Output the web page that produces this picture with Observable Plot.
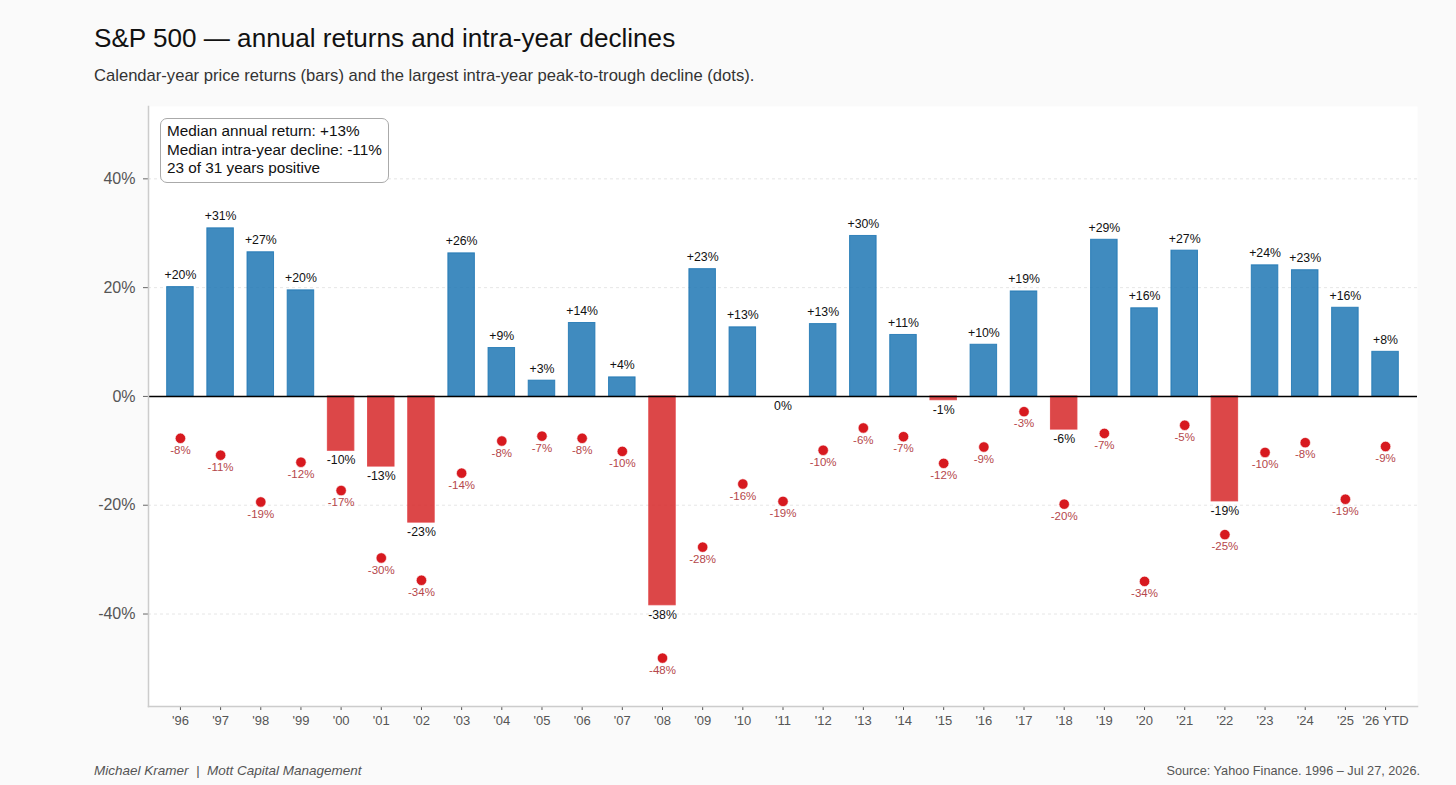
<!DOCTYPE html>
<html>
<head>
<meta charset="utf-8">
<script src="https://cdn.jsdelivr.net/npm/d3@7"></script>
<script src="https://cdn.jsdelivr.net/npm/@observablehq/plot@0.6"></script>
<style>
html,body{margin:0;padding:0;background:#fafafa;font-family:"Liberation Sans",Arial,sans-serif;}
#page{position:relative;width:1456px;height:785px;overflow:hidden;}
#title{position:absolute;left:94px;top:23px;font-size:26.1px;line-height:30px;color:#111;white-space:nowrap;}
#subtitle{position:absolute;left:94px;top:66px;font-size:16.6px;line-height:20px;color:#333;white-space:nowrap;}
#chart{position:absolute;left:0;top:90px;}
#note{position:absolute;left:160px;top:118px;width:229px;height:65px;border:1px solid #aaa;border-radius:7px;background:#fff;padding:3px 0 0 6px;font-size:15.3px;line-height:18.7px;color:#111;box-sizing:border-box;white-space:nowrap;}
#by{position:absolute;left:94px;top:763px;font-size:13.5px;line-height:16px;font-style:italic;color:#555;white-space:nowrap;}
#source{position:absolute;right:36px;top:763px;font-size:12.7px;line-height:16px;color:#555;white-space:nowrap;}
</style>
</head>
<body>
<div id="page">
<div id="title">S&amp;P 500 — annual returns and intra-year declines</div>
<div id="subtitle">Calendar-year price returns (bars) and the largest intra-year peak-to-trough decline (dots).</div>
<div id="chart"></div>
<div id="note">Median annual return: +13%<br>Median intra-year decline: -11%<br>23 of 31 years positive</div>
<div id="by">Michael Kramer&nbsp; |&nbsp; Mott Capital Management</div>
<div id="source">Source: Yahoo Finance. 1996 – Jul 27, 2026.</div>
</div>
<script>
const years = ["'96","'97","'98","'99","'00","'01","'02","'03","'04","'05","'06","'07","'08","'09","'10","'11","'12","'13","'14","'15","'16","'17","'18","'19","'20","'21","'22","'23","'24","'25","'26 YTD"];
const returns = [20.1,30.9,26.5,19.5,-10.0,-12.9,-23.2,26.3,8.9,2.9,13.5,3.5,-38.4,23.4,12.7,0.0,13.3,29.5,11.3,-0.7,9.5,19.3,-6.1,28.8,16.2,26.8,-19.3,24.1,23.2,16.3,8.2];
const declines = [-7.7,-10.8,-19.4,-12.1,-17.3,-29.7,-33.8,-14.1,-8.2,-7.3,-7.7,-10.1,-48.1,-27.7,-16.1,-19.3,-9.9,-5.8,-7.4,-12.3,-9.3,-2.8,-19.8,-6.8,-34.0,-5.3,-25.4,-10.3,-8.5,-18.9,-9.2];
const yTicks = [-40,-20,0,20,40];
const rows = years.map((year,i)=>({year,ret:returns[i],dec:declines[i]}));
const pct = v => { const r = Math.round(v); return (r>0?"+":"")+(r===0?"0":r)+"%"; };
const font = '"Liberation Sans",Arial,sans-serif';
const chart = Plot.plot({
  width:1456, height:640,
  marginLeft:148, marginRight:39, marginTop:16, marginBottom:24,
  style:{background:"transparent",fontFamily:font,overflow:"visible"},
  x:{type:"band",domain:years,round:false,paddingInner:0.34,paddingOuter:0.465,label:null},
  y:{domain:[-57,53.3],label:null},
  marks:[
    Plot.frame({fill:"#fff",stroke:"none"}),
    Plot.ruleY(yTicks.filter(d=>d!==0),{stroke:"#e6e6e6",strokeWidth:1,strokeDasharray:"3,3"}),
    Plot.barY(rows,{x:"year",y:"ret",fill:d=>d.ret>=0?"#1f77b4":"#d62728",fillOpacity:0.85,stroke:d=>d.ret>=0?"#1f77b4":"#e04347",strokeWidth:1,strokeOpacity:.85}),
    Plot.ruleY([0],{stroke:"#000",strokeWidth:1.6}),
    Plot.dot(rows,{x:"year",y:"dec",r:5.2,fill:"#d7191f",stroke:"#fff",strokeWidth:0.6}),
    Plot.text(rows,{x:"year",y:"dec",text:d=>pct(d.dec),dy:12,fill:"#b5474b",fontSize:11.5}),
    Plot.text(rows.filter(d=>d.ret>0),{x:"year",y:"ret",text:d=>pct(d.ret),dy:-12,fill:"#111",fontSize:12.3}),
    Plot.text(rows.filter(d=>d.ret<=0),{x:"year",y:"ret",text:d=>pct(d.ret),dy:9.5,fill:"#111",fontSize:12.3}),
    Plot.axisY({ticks:yTicks,tickFormat:d=>d+"%",tickSize:5,tickPadding:8,fontSize:16,color:"#555",stroke:"#666",label:null}),
    Plot.axisX({tickSize:4,tickPadding:5,fontSize:13,color:"#555",stroke:"#555",label:null}),
    Plot.frame({anchor:"left",stroke:"#ccc",strokeWidth:1.5}),
    Plot.frame({anchor:"bottom",stroke:"#ccc",strokeWidth:1.5})
  ]
});
document.getElementById("chart").appendChild(chart);
</script>
</body>
</html>
